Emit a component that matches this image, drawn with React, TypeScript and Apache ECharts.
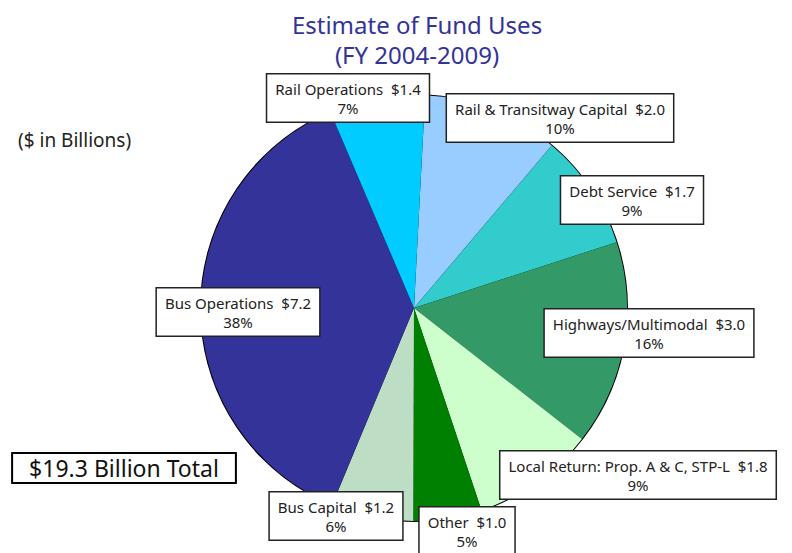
import React, { useEffect, useRef } from "react";
import * as echarts from "echarts";

const categories = [
  "Rail & Transitway Capital",
  "Debt Service",
  "Highways/Multimodal",
  "Local Return: Prop. A & C, STP-L",
  "Other",
  "Bus Capital",
  "Bus Operations",
  "Rail Operations",
];
const values = [2.0, 1.7, 3.0, 1.8, 1.0, 1.2, 7.2, 1.4];
const percentLabels = [10, 9, 16, 9, 5, 6, 38, 7];
const colors = ["#99CCFF", "#33CCCC", "#339966", "#CCFFCC", "#008000", "#BDDEC4", "#333399", "#00CCFF"];
// label box centers (layout only)
const labelPos: [number, number][] = [
  [560, 118],
  [632, 200],
  [649, 333],
  [638, 475],
  [467, 531],
  [336, 516],
  [238, 312],
  [348, 98],
];

const FONT = "'Noto Sans', 'Open Sans', sans-serif";

export default function App() {
  const ref = useRef<HTMLDivElement>(null);
  useEffect(() => {
    if (!ref.current) return;
    const chart = echarts.init(ref.current, undefined, { renderer: "svg" });
    const data = categories.map((name, i) => ({
      name,
      value: values[i],
      itemStyle: { color: colors[i] },
    }));
    chart.setOption({
      animation: false,
      backgroundColor: "#ffffff",
      title: {
        text: "Estimate of Fund Uses\n(FY 2004-2009)",
        left: 412,
        top: 4,
        textAlign: "center",
        textStyle: {
          fontFamily: FONT,
          fontSize: 24,
          fontWeight: "normal",
          color: "#333399",
          lineHeight: 30,
        },
      },
      graphic: [
        {
          type: "text",
          x: 18,
          y: 140,
          style: {
            text: "($ in Billions)",
            fontFamily: FONT,
            fontSize: 19,
            fill: "#222222",
            verticalAlign: "middle",
          },
        },
        {
          type: "text",
          x: 124,
          y: 468,
          style: {
            text: "$19.3 Billion Total",
            fontFamily: FONT,
            fontSize: 23,
            fill: "#111111",
            align: "center",
            verticalAlign: "middle",
            backgroundColor: "#ffffff",
            borderColor: "#000000",
            borderWidth: 2,
            padding: [3, 16, 2, 16],
          },
        },
      ],
      series: [
        {
          type: "pie",
          z: 1,
          silent: true,
          center: [414, 308],
          radius: 214,
          label: { show: false },
          labelLine: { show: false },
          data: [{ value: 1, itemStyle: { color: "#000000" } }],
        },
        {
          type: "pie",
          z: 2,
          center: [414, 308],
          radius: 213,
          startAngle: 87,
          clockwise: true,
          data,
          itemStyle: { borderWidth: 0 },
          labelLine: { show: false },
          label: {
            show: true,
            position: "inside",
            rotate: 0,
            overflow: "none",
            formatter: (p: any) =>
              `${p.name}  $${Number(p.value).toFixed(1)}\n${percentLabels[p.dataIndex]}%`,
            fontFamily: FONT,
            fontSize: 15,
            color: "#222222",
            lineHeight: 19,
            align: "center",
            backgroundColor: "#ffffff",
            borderColor: "#222222",
            borderWidth: 1.5,
            padding: [5, 8, 4, 8],
          },
          labelLayout: (p: any) => ({
            x: labelPos[p.dataIndex][0],
            y: labelPos[p.dataIndex][1],
            align: "center",
            verticalAlign: "middle",
          }),
        },
      ],
    });
    return () => chart.dispose();
  }, []);
  return (
    <div
      ref={ref}
      style={{ position: "fixed", left: 0, top: 0, width: 792, height: 553 }}
    />
  );
}
